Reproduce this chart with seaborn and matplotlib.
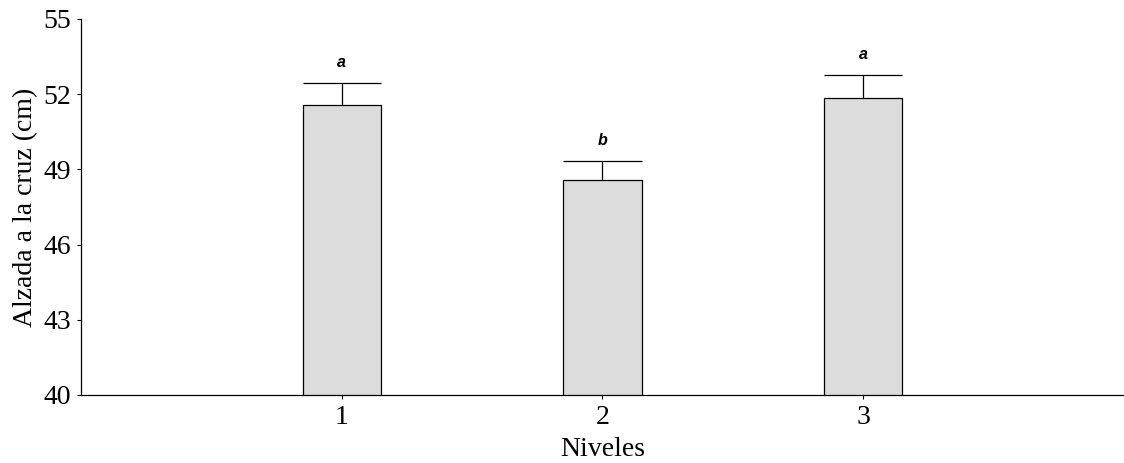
import matplotlib
matplotlib.use("Agg")
import matplotlib.pyplot as plt
import seaborn as sns
import pandas as pd
import numpy as np

# Mean wither height per level, upper standard error and significance letters
niveles = ["1", "2", "3"]
medias = [51.57, 48.58, 51.86]
errores = [0.86, 0.74, 0.89]
letras = ["a", "b", "a"]

df = pd.DataFrame({"Niveles": niveles, "Alzada": medias})

sns.set_style("ticks")
plt.rcParams["font.family"] = ["Liberation Serif", "DejaVu Serif"]

fig = plt.figure(figsize=(11.24, 4.63), dpi=100)
ax = fig.add_axes([0.072, 0.147, 0.928, 0.812])

ancho = 0.3
sns.barplot(data=df, x="Niveles", y="Alzada", color="#dcdcdc", width=ancho,
            edgecolor="black", linewidth=0.9, saturation=1, errorbar=None,
            ax=ax, zorder=2)

# Upper-only error bars with a cap as wide as the bar
x = np.arange(len(niveles))
tope = np.array(medias) + np.array(errores)
ax.vlines(x, medias, tope, colors="black", linewidth=0.9, zorder=1)
ax.hlines(tope, x - ancho / 2, x + ancho / 2, colors="black", linewidth=0.9, zorder=1)

for xi, t, l in zip(x, tope, letras):
    ax.text(xi, t + 0.55, l, ha="center", va="bottom", fontsize=11.5,
            fontweight="bold", fontstyle="italic", color="black",
            family=["Liberation Sans", "DejaVu Sans"])

ax.set_xlim(-1, 3)
ax.set_ylim(40, 55)
ax.set_yticks([40, 43, 46, 49, 52, 55])
ax.tick_params(axis="both", labelsize=20, length=3, width=0.8, color="black",
               labelcolor="black", pad=4)
ax.set_xlabel("Niveles", fontsize=20, color="black", labelpad=5)
ax.set_ylabel("Alzada a la cruz (cm)", fontsize=20, color="black")
sns.despine(ax=ax, top=True, right=True)
for s in ["left", "bottom"]:
    ax.spines[s].set_linewidth(0.9)
    ax.spines[s].set_color("black")

fig.savefig("out.png", dpi=100)
